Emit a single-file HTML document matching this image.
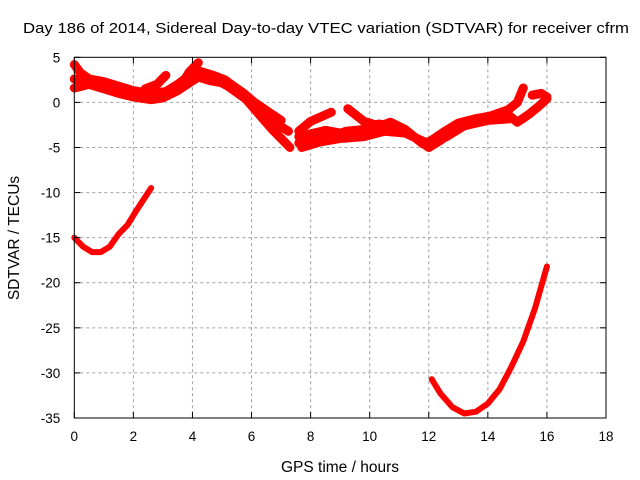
<!DOCTYPE html>
<html><head><meta charset="utf-8"><style>
body{margin:0;background:#fff}
svg{display:block}
text{font-family:"Liberation Sans",sans-serif;fill:#000}
</style></head><body>
<svg id="chart" width="640" height="480">
<text x="326" y="33" font-size="15" text-anchor="middle" textLength="606" lengthAdjust="spacingAndGlyphs">Day 186 of 2014, Sidereal Day-to-day VTEC variation (SDTVAR) for receiver cfrm</text>
<text x="340" y="472" font-size="15.5" text-anchor="middle">GPS time / hours</text>
<text transform="translate(19,238) rotate(-90)" font-size="15.5" text-anchor="middle">SDTVAR / TECUs</text>
<g id="grid"></g><g id="series"></g><g id="axes"></g>
</svg>
<script>
const xTicks=[0,2,4,6,8,10,12,14,16,18];
const yTicks=[5,0,-5,-10,-15,-20,-25,-30,-35];
const trackA=[[0,-15],[0.3,-16],[0.6,-16.6],[0.9,-16.6],[1.2,-16],[1.5,-14.6],[1.8,-13.6],[2.1,-12],[2.4,-10.5],[2.6,-9.5]];
const trackB=[[12.1,-30.7],[12.4,-32.3],[12.8,-33.8],[13.2,-34.5],[13.6,-34.3],[14,-33.4],[14.4,-31.8],[14.8,-29.3],[15.2,-26.5],[15.6,-22.8],[16,-18.2]];
const trackC=[[0,4.2],[0.2,3.3],[0.5,2.6],[1,2.3],[1.5,1.8],[2,1.3],[2.6,1],[3.1,1.2],[3.5,2],[3.9,3],[4.2,3.5],[4.7,3],[5.1,2.5],[5.5,1.5],[5.9,0.5],[6.2,-0.5],[6.6,-1.6],[6.9,-2.5],[7.25,-3.2]];
const trackD=[[0,1.6],[0.5,2],[1,1.5],[1.5,1],[2,0.6],[2.6,0.3],[3,0.5],[3.5,1.3],[4,2.4],[4.3,3],[4.8,2.5],[5.2,1.8],[5.8,0.4],[6.3,-1.5],[6.7,-3],[7,-4],[7.3,-5]];
const trackL=[[0,2.6],[0.5,2.4],[1,2],[1.5,1.6],[2,1],[2.6,0.8],[3.2,0.9],[3.6,1.6],[4.1,2.9],[4.6,2.4],[5.3,2],[5.7,1.1],[6.1,0],[6.5,-0.9],[7,-2]];
const trackE=[[3.6,1.8],[3.9,3.4],[4.2,4.4]];
const trackF=[[2.4,1.5],[2.8,2],[3.1,3]];
const trackG=[[7.6,-3.8],[8,-3.5],[8.5,-3.1],[9,-3.4],[9.6,-3.5],[10.2,-2.8],[10.7,-2.2],[11.2,-3],[11.8,-4.6],[12.1,-4.2],[12.5,-3.3],[13,-2.3],[13.6,-1.8],[14.1,-1.5],[14.7,-0.8],[15,0],[15.2,1.6]];
const trackH=[[7.6,-4.5],[8.2,-4],[8.7,-3.8],[9.2,-3.2],[9.8,-3],[10.3,-2.4],[10.8,-2.6],[11.4,-3.6],[12,-5],[12.4,-4.2],[13,-2.8],[13.6,-2],[14.2,-1.6],[14.7,-1.4],[15,-2.2],[15.4,-1.3],[15.7,-0.5],[16,0.4]];
const trackM=[[7.7,-5],[8.3,-4.4],[9,-4],[9.8,-3.8],[10.5,-3.2],[11.2,-3.4],[12,-4.6],[12.6,-3.8],[13.2,-2.6],[14,-2],[14.8,-1.8]];
const trackI=[[7.6,-3.2],[8,-2.1],[8.7,-1.1]];
const trackJ=[[9.26,-0.7],[9.8,-2.1],[10.3,-2.6]];
const trackK=[[15.5,0.8],[15.8,1],[16,0.6]];
const thin=[trackA,trackB];
const thick=[trackC,trackD,trackL,trackE,trackF,trackG,trackH,trackM,trackI,trackJ,trackK];
const X0=74.3,X1=606,Y0=57.3,Y1=418;
const xs=v=>X0+(v-0)/18*(X1-X0);
const ys=v=>Y0+(5-v)/40*(Y1-Y0);
const NS="http://www.w3.org/2000/svg";
const grid=document.getElementById('grid'),axes=document.getElementById('axes'),ser=document.getElementById('series');
function mk(t,a,p){const e=document.createElementNS(NS,t);for(const k in a)e.setAttribute(k,a[k]);p.appendChild(e);return e;}
xTicks.forEach(t=>{
 const x=xs(t);
 if(t>0&&t<18){const g=mk('line',{x1:x,x2:x,y1:Y0,y2:Y1,stroke:'#a0a0a0','stroke-dasharray':'3,3'},grid);
 
 }
 mk('line',{x1:x,x2:x,y1:Y1,y2:Y1-6,stroke:'#000'},axes);
 mk('line',{x1:x,x2:x,y1:Y0,y2:Y0+6,stroke:'#000'},axes);
 const l=mk('text',{x:x,y:Y1+23,'font-size':'13.5','text-anchor':'middle'},axes);l.textContent=t;
 
 
});
yTicks.forEach(t=>{
 const y=ys(t);
 if(t<5&&t>-35){const g=mk('line',{x1:X0,x2:X1,y1:y,y2:y,stroke:'#a0a0a0','stroke-dasharray':'3,3'},grid);
 
 }
 mk('line',{x1:X0,x2:X0+6,y1:y,y2:y,stroke:'#000'},axes);
 mk('line',{x1:X1,x2:X1-6,y1:y,y2:y,stroke:'#000'},axes);
 const l=mk('text',{x:X0-14,y:y+5,'font-size':'13.5','text-anchor':'end'},axes);l.textContent=t;
 
 
});
const fr=mk('rect',{x:X0,y:Y0,width:X1-X0,height:Y1-Y0,fill:'none',stroke:'#000'},axes);


function draw(tr,w){
 const p=mk('polyline',{points:tr.map(d=>xs(d[0])+','+ys(d[1])).join(' '),fill:'none',stroke:'#ff0000','stroke-width':w,'stroke-linejoin':'round','stroke-linecap':'round'},ser);
 
 
}
thin.forEach(tr=>draw(tr,6));
thick.forEach(tr=>draw(tr,9));
</script>
</body></html>
